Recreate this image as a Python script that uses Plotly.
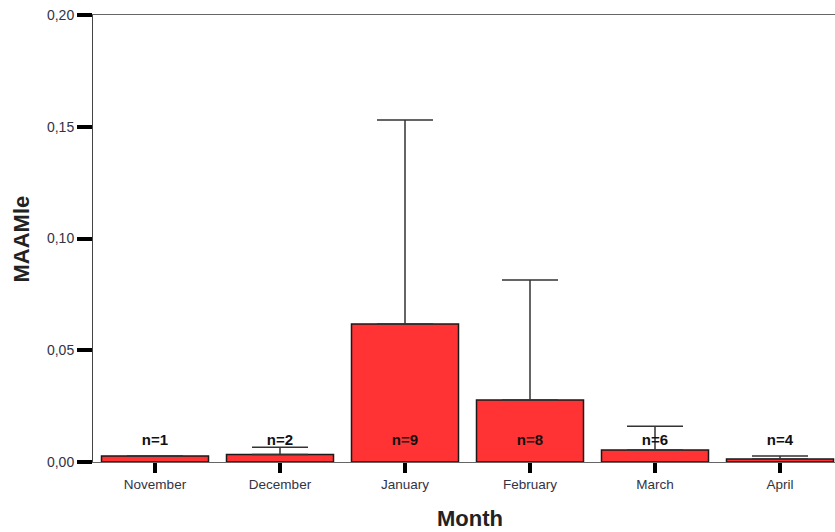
import plotly.graph_objects as go

# Monthly MAAMle means with upper error bars and sample sizes
months = ["November", "December", "January", "February", "March", "April"]
means = [0.0027, 0.0034, 0.0617, 0.0277, 0.0054, 0.0013]
err_upper = [0.0, 0.0032, 0.0913, 0.0537, 0.0106, 0.0014]
n_obs = [1, 2, 9, 8, 6, 4]
n_label_y = 0.0094

x_idx = list(range(len(months)))

fig = go.Figure()

fig.add_trace(go.Bar(
    x=x_idx, y=means, width=0.856,
    marker=dict(color="#ff3333", line=dict(color="#1a1a1a", width=1.5)),
    error_y=dict(type="data", symmetric=False, array=err_upper,
                 arrayminus=[0] * len(means), width=28, thickness=1.5,
                 color="#333333"),
    showlegend=False, hoverinfo="skip",
))

fig.add_trace(go.Scatter(
    x=x_idx, y=[n_label_y] * len(months), mode="text",
    text=[f"<b>n={n}</b>" for n in n_obs],
    textfont=dict(family="Liberation Sans, Arial, sans-serif", size=15, color="#111111"),
    textposition="middle center", showlegend=False, hoverinfo="skip",
))

fig.update_layout(
    width=835, height=532,
    margin=dict(l=93, r=0, t=15, b=70),
    paper_bgcolor="white", plot_bgcolor="white",
    separators=",.",
    font=dict(family="Liberation Sans, Arial, sans-serif", color="#333333"),
    xaxis=dict(
        range=[-0.496, 5.44], tickmode="array", tickvals=x_idx, ticktext=months,
        showgrid=False, zeroline=False, showline=True, linecolor="#666666",
        linewidth=1, mirror=True, ticks="outside", ticklen=10, tickwidth=4,
        tickcolor="#000000", tickfont=dict(size=13.5, color="#333344"),
    ),
    yaxis=dict(
        range=[0, 0.20], tickvals=[0, 0.05, 0.10, 0.15, 0.20], tickformat=".2f",
        showgrid=False, zeroline=False, showline=True, linecolor="#444444",
        linewidth=1, ticks="outside", ticklen=15, tickwidth=4,
        tickcolor="#000000", tickfont=dict(size=14, color="#333344"),
    ),
    annotations=[
        dict(text="<b>MAAMle</b>", xref="paper", yref="paper", x=-0.0957, y=0.5,
             xanchor="center", yanchor="middle", textangle=-90, showarrow=False,
             font=dict(size=22, color="#222222")),
        dict(text="<b>Month</b>", xref="paper", yref="paper", x=0.508, y=-0.1275,
             xanchor="center", yanchor="middle", showarrow=False,
             font=dict(size=22, color="#222222")),
    ],
)

fig.write_html("out.html")
